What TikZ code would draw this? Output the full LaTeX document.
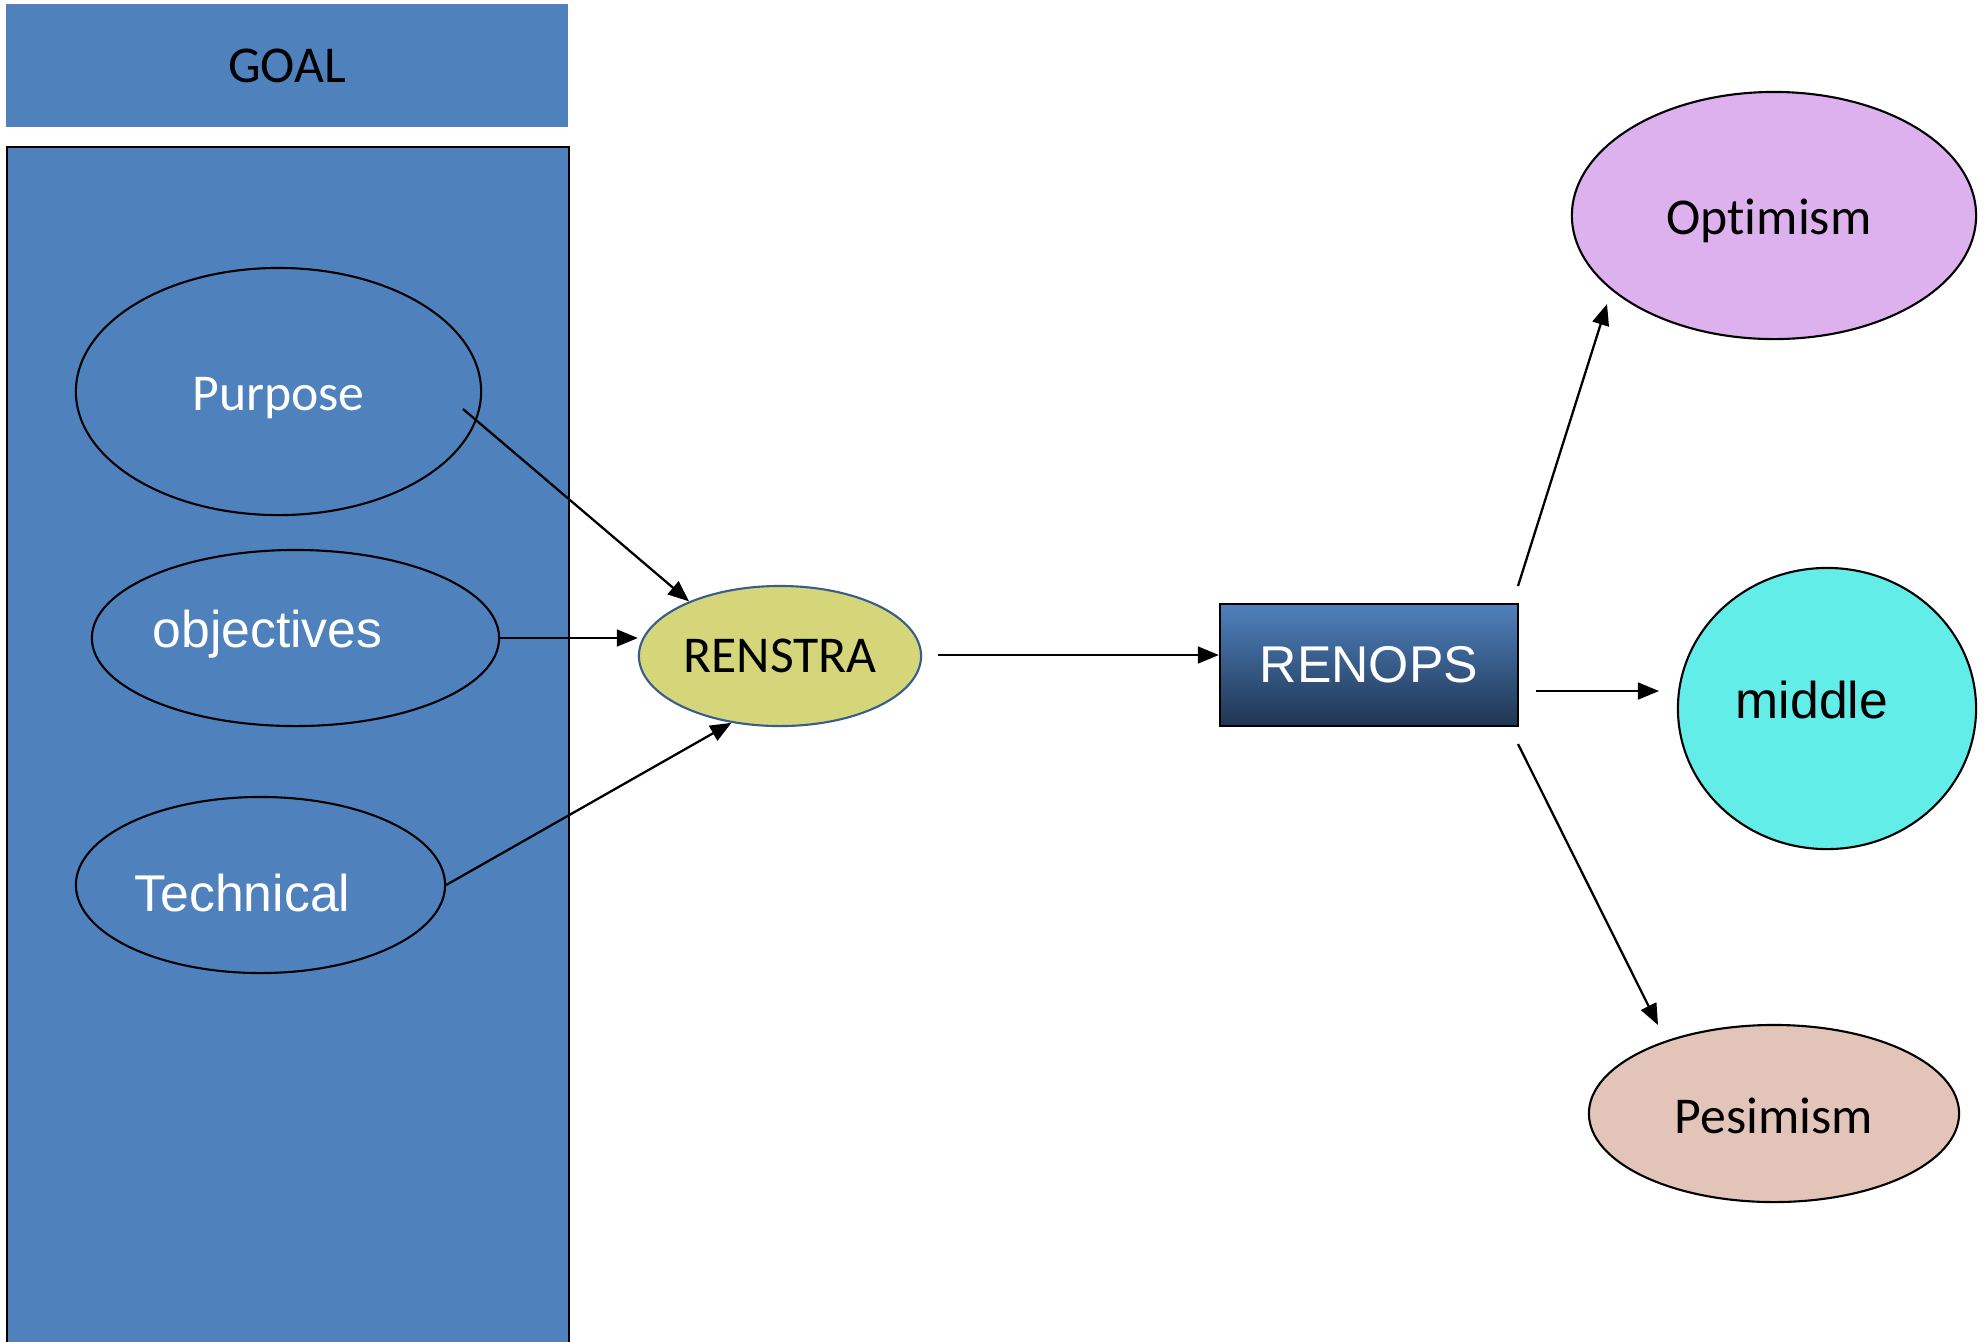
\documentclass[tikz,border=0pt]{standalone}
\usepackage{fontspec}
\newfontfamily\carlitofont[Ligatures={NoCommon}]{Carlito}
\newfontfamily\arialfont{Liberation Sans}
\usetikzlibrary{arrows.meta,shapes.geometric,calc}
\definecolor{goalblue}{HTML}{4F81BD}
\definecolor{renstrafill}{HTML}{D5D67A}
\definecolor{renstraline}{HTML}{385D8A}
\definecolor{optfill}{HTML}{DDB0EE}
\definecolor{midfill}{HTML}{62EDE8}
\definecolor{pesfill}{HTML}{E2C4B8}
\definecolor{rtop}{HTML}{4F81BD}
\definecolor{rbot}{HTML}{1F3552}
\tikzset{
  ov/.style={ellipse,draw=black,line width=0.6pt,inner sep=0pt},
  calt/.style={font=\carlitofont\fontsize{14.7}{17}\selectfont},
  arit/.style={font=\arialfont\fontsize{14.7}{17}\selectfont},
  arr/.style={-{Triangle[length=6pt,width=4.8pt]},line width=0.65pt,draw=black},
}
\begin{document}
\begin{tikzpicture}[x=0.01cm,y=-0.01cm]
\useasboundingbox (0,0) rectangle (1984,1341);
% goal header
\node[fill=goalblue,minimum width=5.62cm,minimum height=1.23cm,inner sep=0pt,calt] (goal) at (287,65.5) {GOAL};
% big box
\node[fill=goalblue,draw=black,line width=0.6pt,minimum width=5.62cm,minimum height=12.2cm,inner sep=0pt,anchor=north west] (panel) at (6,146) {};
% ellipses in panel
\node[ov,minimum width=4.05cm,minimum height=2.47cm,label={[calt,text=white,yshift=-0.07cm]center:Purpose}] (purpose) at (278.5,391.5) {};
\node[ov,minimum width=4.07cm,minimum height=1.76cm,label={[arit,text=white,xshift=-0.28cm,yshift=0.04cm]center:objectives}] (objectives) at (295.5,638) {};
\node[ov,minimum width=3.69cm,minimum height=1.76cm,label={[arit,text=white,xshift=-0.18cm,yshift=-0.08cm]center:Technical}] (technical) at (260.5,885) {};
% renstra
\node[ellipse,fill=renstrafill,draw=renstraline,line width=0.6pt,inner sep=0pt,minimum width=2.82cm,minimum height=1.40cm,calt] (renstra) at (780,656) {RENSTRA};
% renops
\node[draw=black,line width=0.6pt,top color=rtop,bottom color=rbot,minimum width=2.98cm,minimum height=1.22cm,inner sep=0pt,arit,text=white] (renops) at (1369,665) {RENOPS};
% outcomes
\node[ov,fill=optfill,minimum width=4.04cm,minimum height=2.47cm,label={[calt,xshift=-0.05cm,yshift=-0.05cm]center:Optimism}] (optimism) at (1774,215.5) {};
\node[ov,fill=midfill,minimum width=2.98cm,minimum height=2.81cm,label={[arit,xshift=-0.15cm,yshift=0.08cm]center:middle}] (middle) at (1827,708.5) {};
\node[ov,fill=pesfill,minimum width=3.70cm,minimum height=1.77cm,label={[calt,yshift=-0.02cm]center:Pesimism}] (pesimism) at (1774,1113.5) {};
% free ends
\coordinate (p1) at (463,409);
\coordinate (r1) at (938,655);
\coordinate (o1) at (1518,586);
\coordinate (o2) at (1607,304);
\coordinate (m1) at (1536,691);
\coordinate (m2) at (1659,691);
\coordinate (s1) at (1518,744);
\coordinate (s2) at (1658,1025);
% arrows
\draw[arr] (p1) -- (renstra.149);
\draw[arr] (objectives.east) -- (objectives.east -| renstra.west);
\draw[arr] (technical.east) -- (renstra.-126);
\draw[arr] (r1) -- (r1 -| renops.west);
\draw[arr] (o1) -- (o2);
\draw[arr] (m1) -- (m2);
\draw[arr] (s1) -- (s2);
\end{tikzpicture}
\end{document}
